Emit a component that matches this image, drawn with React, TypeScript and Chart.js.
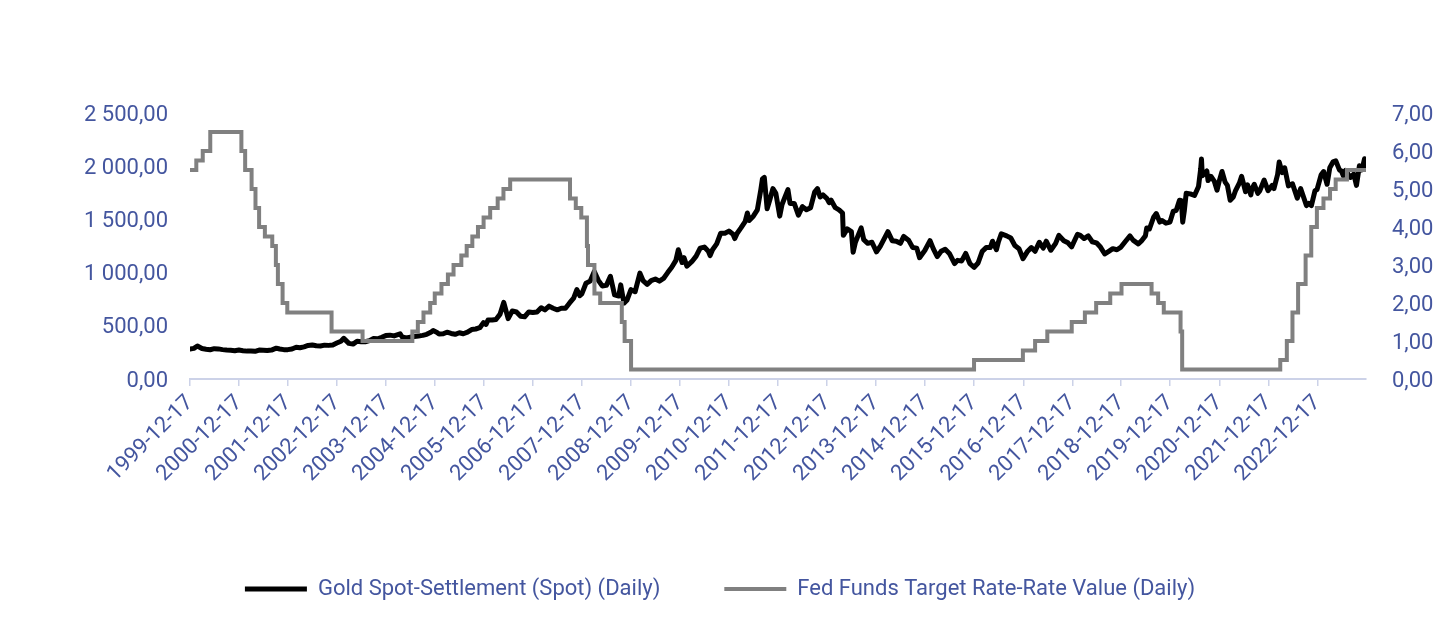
import React, { useEffect, useRef } from "react";
import { Chart, registerables } from "chart.js";

Chart.register(...registerables);

const xTickLabels = [
  "1999-12-17", "2000-12-17", "2001-12-17", "2002-12-17", "2003-12-17", "2004-12-17",
  "2005-12-17", "2006-12-17", "2007-12-17", "2008-12-17", "2009-12-17", "2010-12-17",
  "2011-12-17", "2012-12-17", "2013-12-17", "2014-12-17", "2015-12-17", "2016-12-17",
  "2017-12-17", "2018-12-17", "2019-12-17", "2020-12-17", "2021-12-17", "2022-12-17",
];
const xStart = "1999-12-17";
const xEnd = "2023-12-15";

const goldDates = [
  "1999-12-17","2000-01-15","2000-02-10","2000-03-15","2000-04-15","2000-05-15","2000-06-15","2000-07-15","2000-08-15","2000-09-15","2000-10-15","2000-11-15","2000-12-15",
  "2001-01-15","2001-02-15","2001-03-15","2001-04-15","2001-05-15","2001-06-15","2001-07-15","2001-08-15","2001-09-20","2001-10-15","2001-11-15","2001-12-15",
  "2002-01-15","2002-02-15","2002-03-15","2002-04-15","2002-05-15","2002-06-15","2002-07-15","2002-08-15","2002-09-15","2002-10-15","2002-11-15","2002-12-15",
  "2003-01-15","2003-02-05","2003-03-15","2003-04-15","2003-05-15","2003-06-15","2003-07-15","2003-08-15","2003-09-15","2003-10-15","2003-11-15","2003-12-15",
  "2004-01-15","2004-02-15","2004-03-31","2004-04-15","2004-05-15","2004-06-15","2004-07-15","2004-08-15","2004-09-15","2004-10-15","2004-11-15","2004-12-02","2004-12-31",
  "2005-01-15","2005-02-15","2005-03-15","2005-04-15","2005-05-15","2005-06-15","2005-07-15","2005-08-15","2005-09-15","2005-10-15","2005-11-15","2005-12-12","2005-12-31",
  "2006-01-15","2006-02-15","2006-03-15","2006-04-15","2006-05-12","2006-06-14","2006-07-15","2006-08-15","2006-09-15","2006-10-15","2006-11-15","2006-12-15",
  "2007-01-15","2007-02-15","2007-03-15","2007-04-15","2007-05-15","2007-06-15","2007-07-15","2007-08-15","2007-09-15","2007-10-15","2007-11-08","2007-11-30","2007-12-15",
  "2008-01-15","2008-02-15","2008-03-17","2008-04-15","2008-05-15","2008-06-15","2008-07-15","2008-08-15","2008-09-15","2008-09-30","2008-10-24","2008-11-15","2008-12-15",
  "2009-01-15","2009-02-20","2009-03-15","2009-04-15","2009-05-15","2009-06-15","2009-07-15","2009-08-15","2009-09-15","2009-10-15","2009-11-15","2009-12-03","2009-12-31",
  "2010-01-15","2010-02-05","2010-03-15","2010-04-15","2010-05-15","2010-06-15","2010-07-15","2010-07-28","2010-08-15","2010-09-15","2010-10-15","2010-11-15","2010-12-15",
  "2011-01-15","2011-01-28","2011-02-15","2011-03-15","2011-04-15","2011-05-02","2011-05-15","2011-06-15","2011-07-15","2011-08-10","2011-08-22","2011-09-05","2011-09-26","2011-10-15","2011-11-08","2011-11-30","2011-12-29",
  "2012-01-15","2012-02-28","2012-03-15","2012-04-15","2012-05-16","2012-06-15","2012-07-15","2012-08-15","2012-09-15","2012-10-05","2012-10-25","2012-11-15","2012-12-15","2012-12-31",
  "2013-01-15","2013-02-15","2013-03-15","2013-04-10","2013-04-16","2013-05-15","2013-06-15","2013-06-28","2013-07-15","2013-08-27","2013-09-15","2013-10-15","2013-11-15","2013-12-19",
  "2014-01-15","2014-02-15","2014-03-14","2014-04-15","2014-05-15","2014-06-15","2014-07-10","2014-08-15","2014-09-15","2014-10-15","2014-11-05","2014-12-15",
  "2015-01-22","2015-02-15","2015-03-17","2015-04-15","2015-05-15","2015-06-15","2015-07-24","2015-08-15","2015-09-15","2015-10-15","2015-11-15","2015-12-17",
  "2016-01-15","2016-02-15","2016-03-15","2016-04-15","2016-05-02","2016-05-31","2016-06-15","2016-07-06","2016-08-15","2016-09-15","2016-10-15","2016-11-15","2016-12-15",
  "2017-01-15","2017-02-15","2017-03-15","2017-04-15","2017-05-15","2017-06-06","2017-07-10","2017-08-15","2017-09-08","2017-10-15","2017-11-15","2017-12-12",
  "2018-01-25","2018-02-15","2018-03-15","2018-04-15","2018-05-15","2018-06-15","2018-07-15","2018-08-16","2018-09-15","2018-10-15","2018-11-15","2018-12-15",
  "2019-01-15","2019-02-20","2019-03-15","2019-04-23","2019-05-15","2019-06-15","2019-06-25","2019-07-15","2019-08-15","2019-09-04","2019-09-30","2019-10-15","2019-11-15","2019-12-15",
  "2020-01-08","2020-01-31","2020-02-24","2020-03-09","2020-03-19","2020-03-31","2020-04-14","2020-05-15","2020-06-15","2020-07-15","2020-07-31","2020-08-06","2020-08-12","2020-09-15","2020-09-24","2020-10-15","2020-11-09","2020-11-30","2020-12-15",
  "2021-01-06","2021-01-29","2021-02-15","2021-03-08","2021-03-31","2021-04-15","2021-05-15","2021-06-01","2021-06-30","2021-07-15","2021-08-09","2021-08-15","2021-09-03","2021-09-30","2021-10-15","2021-11-16","2021-12-15",
  "2022-01-15","2022-01-28","2022-02-24","2022-03-08","2022-03-31","2022-04-18","2022-05-16","2022-06-15","2022-07-21","2022-08-15","2022-09-27","2022-10-15","2022-11-03","2022-11-30","2022-12-15",
  "2023-01-15","2023-02-02","2023-02-28","2023-03-20","2023-04-13","2023-05-04","2023-05-31","2023-06-15","2023-06-29","2023-07-15","2023-08-21","2023-09-15","2023-10-05","2023-10-27","2023-11-15","2023-12-04","2023-12-08","2023-12-15",
];

const goldPrices = [
  282,288,310,287,280,275,285,283,276,272,270,266,272,
  266,262,263,260,272,270,267,272,290,282,276,276,
  282,298,294,302,315,320,312,310,318,316,320,338,
  355,382,335,328,355,350,350,360,380,378,392,408,
  412,405,425,395,385,393,400,405,410,420,440,455,438,
  424,425,440,428,420,435,425,440,465,470,482,530,513,
  555,555,560,610,720,567,640,630,590,585,630,625,
  630,670,650,685,665,650,665,665,715,760,840,783,800,
  900,920,1011,930,875,880,965,790,780,885,713,740,840,
  820,995,925,890,925,940,920,945,1000,1050,1115,1215,1095,
  1140,1060,1105,1155,1230,1240,1200,1160,1215,1270,1370,1370,1390,
  1360,1320,1370,1420,1480,1560,1490,1530,1590,1780,1880,1895,1600,1680,1790,1745,1531,
  1640,1780,1650,1650,1540,1620,1590,1610,1760,1790,1710,1730,1695,1657,
  1680,1610,1590,1560,1350,1410,1385,1192,1285,1420,1310,1275,1285,1195,
  1245,1320,1385,1300,1295,1275,1340,1305,1235,1230,1140,1210,
  1300,1225,1150,1200,1220,1180,1085,1115,1110,1180,1085,1050,
  1090,1200,1235,1235,1295,1215,1290,1365,1345,1325,1255,1225,1130,
  1195,1235,1200,1285,1230,1295,1210,1275,1350,1300,1280,1242,
  1360,1350,1320,1345,1290,1280,1240,1175,1200,1225,1215,1240,
  1290,1345,1305,1270,1295,1345,1420,1410,1520,1555,1475,1490,1465,1475,
  1575,1585,1680,1675,1474,1580,1745,1740,1725,1810,1975,2067,1910,1955,1865,1905,1860,1775,1855,
  1950,1850,1820,1680,1710,1765,1840,1905,1760,1825,1730,1780,1830,1745,1770,1870,1770,
  1820,1790,1920,2039,1940,1985,1815,1835,1700,1790,1630,1650,1630,1770,1780,
  1920,1950,1830,1985,2040,2050,1965,1955,1910,1960,1895,1925,1820,2005,1965,2070,2005,2035,
];

const fedDates = [
  "1999-12-17","2000-02-02","2000-03-21","2000-05-16","2001-01-03","2001-01-31","2001-03-20",
  "2001-04-18","2001-05-15","2001-06-27","2001-08-21","2001-09-17","2001-10-02","2001-11-06",
  "2001-12-11","2002-11-06","2003-06-25","2004-06-30","2004-08-10","2004-09-21","2004-11-10",
  "2004-12-14","2005-02-02","2005-03-22","2005-05-03","2005-06-30","2005-08-09","2005-09-20",
  "2005-11-01","2005-12-13","2006-01-31","2006-03-28","2006-05-10","2006-06-29","2007-09-18",
  "2007-10-31","2007-12-11","2008-01-22","2008-01-30","2008-03-18","2008-04-30","2008-10-08",
  "2008-10-29","2008-12-16","2015-12-16","2016-12-14","2017-03-15","2017-06-14","2017-12-13",
  "2018-03-21","2018-06-13","2018-09-26","2018-12-19","2019-07-31","2019-09-18","2019-10-30",
  "2020-03-03","2020-03-15","2022-03-16","2022-05-04","2022-06-15","2022-07-27","2022-09-21",
  "2022-11-02","2022-12-14","2023-02-01","2023-03-22","2023-05-03","2023-07-26","2023-12-15",
];
const fedRates = [
  5.5,5.75,6.0,6.5,6.0,5.5,5.0,
  4.5,4.0,3.75,3.5,3.0,2.5,2.0,
  1.75,1.25,1.0,1.25,1.5,1.75,2.0,
  2.25,2.5,2.75,3.0,3.25,3.5,3.75,
  4.0,4.25,4.5,4.75,5.0,5.25,4.75,
  4.5,4.25,3.5,3.0,2.25,2.0,1.5,
  1.0,0.25,0.5,0.75,1.0,1.25,1.5,
  1.75,2.0,2.25,2.5,2.25,2.0,1.75,
  1.25,0.25,0.5,1.0,1.75,2.5,3.25,
  4.0,4.5,4.75,5.0,5.25,5.5,5.5,
];

const TEXT = "#44569f";
const AXIS = "#ccd2e8";
const FONT = "Roboto";
const FS = 22;

const toTime = (s: string) => Date.parse(s + "T00:00:00Z");

const fmt = (v: number) => {
  const [i, d] = v.toFixed(2).split(".");
  const withSpaces = i.replace(/\B(?=(\d{3})+(?!\d))/g, " ");
  return withSpaces + "," + d;
};

export default function App() {
  const ref = useRef<HTMLCanvasElement | null>(null);

  useEffect(() => {
    document.body.style.margin = "0";
    const canvas = ref.current;
    if (!canvas) return;
    const tickValues = xTickLabels.map(toTime);
    const chart = new Chart(canvas, {
      type: "line",
      data: {
        datasets: [
          {
            label: "Gold Spot-Settlement (Spot) (Daily)",
            data: goldDates.map((d, i) => ({ x: toTime(d), y: goldPrices[i] })),
            borderColor: "#000000",
            backgroundColor: "#000000",
            borderWidth: 5,
            borderJoinStyle: "round",
            borderCapStyle: "round",
            pointRadius: 0,
            tension: 0,
            yAxisID: "y",
            order: 2,
          },
          {
            label: "Fed Funds Target Rate-Rate Value (Daily)",
            data: fedDates.map((d, i) => ({ x: toTime(d), y: fedRates[i] })),
            borderColor: "#808080",
            backgroundColor: "#808080",
            borderWidth: 4,
            pointRadius: 0,
            stepped: "before",
            yAxisID: "y1",
            order: 1,
          },
        ],
      },
      options: {
        animation: false,
        responsive: false,
        maintainAspectRatio: false,
        layout: { padding: { top: 113, left: 0, right: 0, bottom: 20 } },
        plugins: {
          tooltip: { enabled: false },
          legend: {
            position: "bottom",
            labels: {
              usePointStyle: true,
              pointStyle: "line",
              pointStyleWidth: 62,
              padding: 64,
              color: TEXT,
              font: { family: FONT, size: FS },
              sort: (a: any, b: any) => a.datasetIndex - b.datasetIndex,
            },
          },
        },
        scales: {
          x: {
            type: "linear",
            min: toTime(xStart),
            max: toTime(xEnd),
            afterBuildTicks: (scale: any) => {
              scale.ticks = tickValues.map((v) => ({ value: v }));
            },
            afterFit: (scale: any) => {
              scale.height = 135;
            },
            ticks: {
              autoSkip: false,
              minRotation: 45,
              maxRotation: 45,
              padding: 4,
              color: TEXT,
              font: { family: FONT, size: FS },
              callback: (v: any) => {
                const idx = tickValues.indexOf(Number(v));
                return idx >= 0 ? xTickLabels[idx] : "";
              },
            },
            grid: {
              display: true,
              drawOnChartArea: false,
              drawTicks: true,
              tickLength: 7,
              color: AXIS,
              lineWidth: 1.5,
            },
            border: { display: true, color: AXIS, width: 2 },
          },
          y: {
            position: "left",
            min: 0,
            max: 2500,
            afterFit: (scale: any) => {
              scale.width = 190;
            },
            ticks: {
              stepSize: 500,
              padding: 22,
              labelOffset: 2,
              color: TEXT,
              font: { family: FONT, size: FS },
              callback: (v: any) => fmt(Number(v)),
            },
            grid: { display: false, drawTicks: false },
            border: { display: false },
          },
          y1: {
            position: "right",
            min: 0,
            max: 7,
            afterFit: (scale: any) => {
              scale.width = 74;
            },
            ticks: {
              stepSize: 1,
              padding: 26,
              labelOffset: 2,
              color: TEXT,
              font: { family: FONT, size: FS },
              callback: (v: any) => fmt(Number(v)),
            },
            grid: { display: false, drawTicks: false },
            border: { display: false },
          },
        },
      },
    });
    return () => chart.destroy();
  }, []);

  return (
    <div style={{ position: "absolute", left: 0, top: 0, width: 1440, height: 630, background: "#ffffff" }}>
      <canvas ref={ref} width={1440} height={630} style={{ width: 1440, height: 630, display: "block" }} />
    </div>
  );
}
